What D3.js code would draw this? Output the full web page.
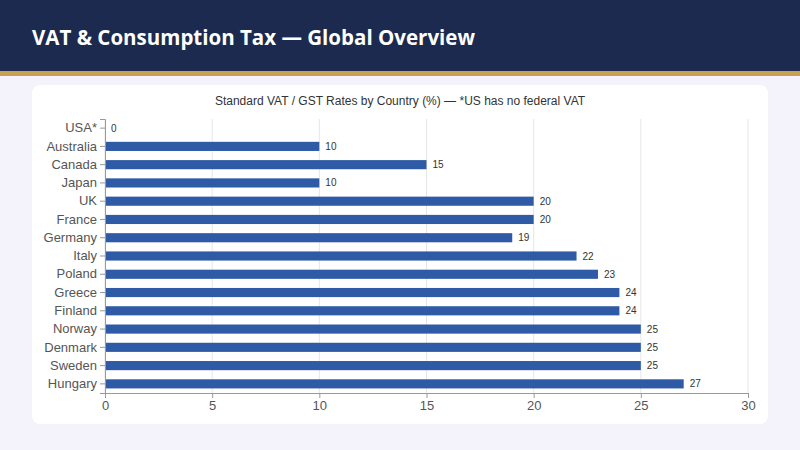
<!DOCTYPE html>
<html><head><meta charset="utf-8">
<script src="https://cdn.jsdelivr.net/npm/d3@7"></script>
<style>body{margin:0;background:#f4f3fb;font-family:"Open Sans",sans-serif}</style>
</head><body><svg id="c" width="800" height="450"></svg>
<script>
const countries = ["USA*","Australia","Canada","Japan","UK","France","Germany","Italy","Poland","Greece","Finland","Norway","Denmark","Sweden","Hungary"];
const rates = [0,10,15,10,20,20,19,22,23,24,24,25,25,25,27];
const xTicks = [0,5,10,15,20,25,30];

const svg = d3.select("#c");
svg.append("rect").attr("width",800).attr("height",450).attr("fill","#f4f3fb");
svg.append("rect").attr("width",800).attr("height",71).attr("fill","#1c2a4f");
svg.append("rect").attr("y",71).attr("width",800).attr("height",5).attr("fill","#c9a04f");
svg.append("text").attr("x",32).attr("y",45).attr("fill","#fff")
  .attr("font-size",20.5).attr("font-weight",700).text("VAT & Consumption Tax — Global Overview");
svg.append("rect").attr("x",32).attr("y",85).attr("width",736).attr("height",339).attr("rx",8).attr("fill","#fff");
svg.append("text").attr("x",400).attr("y",105).attr("text-anchor","middle")
  .attr("font-family","Arial, Liberation Sans, sans-serif").attr("font-size",12).attr("fill","#333")
  .text("Standard VAT / GST Rates by Country (%) — *US has no federal VAT");

const margin = {left:105, right:748, top:119, bottom:393};
const x = d3.scaleLinear().domain([0,30]).range([margin.left, margin.right]);
const y = d3.scaleBand().domain(countries).range([margin.top, margin.bottom]).paddingInner(0.5).paddingOuter(0.25);
const g = svg.append("g").attr("font-family","Arial, Liberation Sans, sans-serif");

g.selectAll(".grid").data(xTicks).join("line")
  .attr("x1",d=>x(d)).attr("x2",d=>x(d)).attr("y1",margin.top).attr("y2",margin.bottom)
  .attr("stroke","#e6e6e6");
g.selectAll(".bar").data(rates).join("rect")
  .attr("x",x(0)).attr("y",(d,i)=>y(countries[i]))
  .attr("width",d=>x(d)-x(0)).attr("height",y.bandwidth()).attr("fill","#2e5aa6");
g.selectAll(".lbl").data(rates).join("text")
  .attr("x",d=>x(d)+6).attr("y",(d,i)=>y(countries[i])+y.bandwidth()/2+3.5)
  .attr("font-size",10).attr("fill","#333").text(d=>d);

const ax = g.append("g").attr("transform",`translate(0,${margin.bottom})`)
  .call(d3.axisBottom(x).tickValues(xTicks).tickSize(5));
ax.selectAll("text").attr("font-size",13).attr("fill","#555");
ax.selectAll("line,path").attr("stroke","#999");
const ay = g.append("g").attr("transform",`translate(${margin.left},0)`)
  .call(d3.axisLeft(y).tickSize(5));
ay.selectAll("text").attr("font-size",13).attr("fill","#555");
ay.selectAll("line,path").attr("stroke","#999");
</script></body></html>
